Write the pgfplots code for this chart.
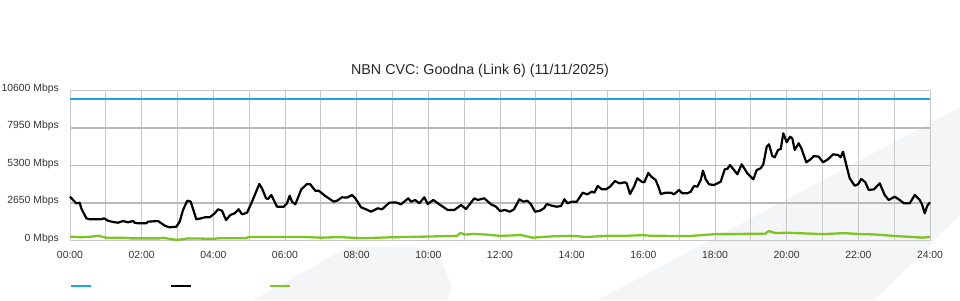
\documentclass[border=0pt]{standalone}
\usepackage{pgfplots}
\pgfplotsset{compat=1.18}
\usepackage{fontspec}
\setmainfont{Liberation Sans}
\definecolor{cblue}{HTML}{1EA3E6}
\definecolor{cgreen}{HTML}{7DC424}
\definecolor{cgrid}{HTML}{C8C8C8}
\definecolor{cgridh}{HTML}{BABABA}
\definecolor{ctext}{HTML}{333333}
\definecolor{cwm}{HTML}{F4F5F7}
\begin{document}
\begin{tikzpicture}[x=1bp,y=1bp]
\useasboundingbox (0,0) rectangle (960,300);
% faint background watermark shapes
\fill[cwm] (253,0) -- (348,53) -- (437,52) -- (452,13) -- (448,0) -- cycle;
\fill[cwm] (598,0) -- (960,193) -- (960,85) -- (875,0) -- cycle;
\node[font=\fontsize{14.3bp}{16bp}\selectfont, text=black!85, anchor=center] at (480,229) {NBN CVC: Goodna (Link 6) (11/11/2025)};
\begin{axis}[
  at={(70bp,59.5bp)}, anchor=south west,
  scale only axis, width=860bp, height=150bp,
  xmin=0, xmax=24, ymin=0, ymax=10600,
  axis line style={cgrid, line width=0.8bp},
  scaled y ticks=false,
  xtick={0,1,...,24},
  xticklabels={00:00,,02:00,,04:00,,06:00,,08:00,,10:00,,12:00,,14:00,,16:00,,18:00,,20:00,,22:00,,24:00},
  ytick={0,2650,5300,7950,10600},
  yticklabels={0 Mbps,2650 Mbps,5300 Mbps,7950 Mbps,10600 Mbps},
  major tick length=0pt,
  xmajorgrids, ymajorgrids,
  x grid style={cgrid, line width=1bp},
  y grid style={cgridh, line width=1.9bp},
  tick label style={font=\fontsize{10.4bp}{12bp}\selectfont, text=ctext},
  xticklabel style={inner sep=0pt, anchor=north, yshift=-10.5bp},
  yticklabel style={inner sep=0pt, anchor=east, xshift=-11bp, yshift=2bp},
  clip=false,
  legend style={at={(0,0)}, anchor=north west, xshift=0bp, yshift=-44bp, draw=none, fill=none, inner sep=0pt, outer sep=0pt, nodes={inner sep=0pt, outer sep=0pt}, legend columns=3, /tikz/every even column/.append style={column sep=76.5bp}},
  legend image code/.code={\draw[#1] (0bp,0bp) -- (20bp,0bp);},
]
\addplot[cblue, line width=2bp] coordinates {(0,10000) (24,10000)};
\addlegendentry{\mbox{}}
\addplot[black, line width=2.2bp, line join=round] coordinates {
(0.000,3095) (0.176,2629) (0.271,2671) (0.315,2275) (0.455,1569) (0.550,1498) (0.874,1498) (0.949,1569)
(1.060,1400) (1.200,1307) (1.340,1258) (1.479,1378) (1.619,1282) (1.758,1378) (1.806,1258) (1.898,1216)
(2.129,1216) (2.177,1330) (2.456,1378) (2.548,1216) (2.643,1046) (2.782,930) (2.967,975) (3.061,1330)
(3.154,2155) (3.273,2813) (3.368,2750) (3.525,1498) (3.664,1569) (3.759,1640) (3.899,1640) (4.038,1922)
(4.130,2204) (4.242,2108) (4.354,1449) (4.474,1802) (4.596,1922) (4.708,2204) (4.800,1851) (4.940,1965)
(5.079,2742) (5.283,3993) (5.358,3689) (5.470,2982) (5.526,2935) (5.618,3215) (5.777,2389) (5.964,2389)
(6.056,2629) (6.131,3166) (6.196,2742) (6.288,2558) (6.455,3618) (6.614,3993) (6.706,3970) (6.846,3519)
(6.941,3519) (7.125,3145) (7.359,2742) (7.451,2813) (7.591,3053) (7.730,3030) (7.870,3215) (7.962,2982)
(8.121,2350) (8.260,2204) (8.400,2035) (8.587,2275) (8.707,2204) (8.911,2671) (9.098,2695) (9.237,2558)
(9.441,2982) (9.516,2742) (9.636,2862) (9.748,2629) (9.888,3053) (9.982,2579) (10.139,2862) (10.306,2558)
(10.541,2155) (10.725,2155) (10.912,2509) (11.051,2226) (11.283,2982) (11.378,2862) (11.562,2982) (11.749,2558)
(11.888,2389) (12.000,2085) (12.140,2155) (12.279,2035) (12.391,2204) (12.539,2911) (12.651,2742) (12.762,2813)
(12.857,2579) (12.977,2035) (13.117,2108) (13.228,2275) (13.303,2579) (13.443,2461) (13.582,2389) (13.702,2437)
(13.795,2911) (13.889,2629) (14.001,2742) (14.141,2742) (14.308,3378) (14.437,3260) (14.559,3449) (14.632,3378)
(14.727,3851) (14.838,3618) (14.958,3618) (15.070,3802) (15.209,4205) (15.329,4042) (15.488,4113) (15.535,4042)
(15.628,3286) (15.739,3802) (15.832,4396) (15.954,4155) (16.027,4113) (16.139,4770) (16.223,4509) (16.345,4275)
(16.438,3689) (16.485,3286) (16.624,3378) (16.764,3378) (16.856,3265) (16.996,3569) (17.088,3335) (17.228,3335)
(17.322,3449) (17.414,3851) (17.507,3802) (17.601,4275) (17.665,4933) (17.741,4325) (17.833,3972) (17.972,3922)
(18.159,4155) (18.271,5031) (18.343,5055) (18.419,5335) (18.530,4982) (18.623,4678) (18.745,5385) (18.902,4749)
(18.997,4509) (19.069,4325) (19.164,4982) (19.276,5102) (19.348,5385) (19.443,6629) (19.507,6798) (19.599,5971)
(19.666,5879) (19.758,6395) (19.834,6466) (19.906,7576) (20.001,6940) (20.093,7335) (20.157,7217) (20.224,6395)
(20.336,6869) (20.409,6516) (20.548,5526) (20.643,5689) (20.763,5971) (20.894,5924) (21.014,5526) (21.153,5738)
(21.293,6091) (21.432,6044) (21.508,5879) (21.572,6275) (21.664,5335) (21.759,4396) (21.898,3873) (21.991,3972)
(22.083,4346) (22.195,4113) (22.290,3569) (22.437,3615) (22.596,4042) (22.736,3215) (22.847,2862) (23.015,3095)
(23.154,2862) (23.274,2629) (23.434,2629) (23.573,3215) (23.713,2862) (23.777,2558) (23.852,1922) (23.925,2461)
(24.000,2700)
};
\addlegendentry{\mbox{}}
\addplot[cgreen, line width=2.3bp, line join=round] coordinates {
(0,270) (0.3,230) (0.5,250) (0.8,330) (1.0,200) (1.5,200) (1.7,150) (2.5,150) (2.6,200) (2.8,100) (3.0,40)
(3.3,150) (4.0,120) (4.2,160) (4.9,160) (5.0,250) (6.5,250) (7.0,200) (7.5,240) (8.2,160) (9.0,230)
(10.0,280) (10.8,330) (10.9,550) (11.0,420) (11.3,460) (11.6,420) (12.0,330) (12.6,380) (12.9,200)
(13.5,300) (14.0,330) (14.4,250) (15.0,330) (15.5,330) (16.0,380) (16.2,330) (17.3,318) (18.0,450)
(18.5,450) (19.0,480) (19.4,480) (19.5,670) (19.7,520) (20.0,550) (20.5,500) (21.0,450) (21.6,520)
(22.0,460) (22.5,420) (23.0,320) (23.5,250) (23.8,200) (24.0,260)
};
\addlegendentry{\mbox{}}
\end{axis}
\end{tikzpicture}
\end{document}
